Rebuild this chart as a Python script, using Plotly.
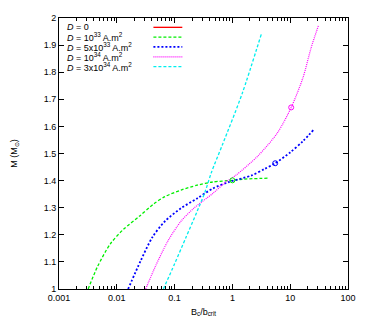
import plotly.graph_objects as go

# Data
green_x = [0.0032, 0.0046, 0.0077, 0.013, 0.0245, 0.043, 0.068, 0.129, 0.245, 0.46, 1.0, 1.47, 4.1]
green_y = [1.0, 1.081, 1.166, 1.22, 1.268, 1.313, 1.341, 1.365, 1.383, 1.395, 1.401, 1.405, 1.409]

blue_x = [0.0157, 0.026, 0.041, 0.068, 0.129, 0.245, 0.46, 0.88, 2.15, 3.6, 5.5, 10, 16.7, 26]
blue_y = [1.0, 1.105, 1.19, 1.25, 1.298, 1.334, 1.371, 1.395, 1.419, 1.443, 1.464, 1.504, 1.546, 1.59]

mag_x = [0.0316, 0.046, 0.077, 0.129, 0.215, 0.46, 0.77, 1.135, 2.79, 6.0, 10.4, 16.7, 23, 30.8]
mag_y = [1.0, 1.081, 1.178, 1.25, 1.298, 1.353, 1.395, 1.419, 1.492, 1.576, 1.67, 1.781, 1.89, 1.972]

cyan_x = [0.064, 0.1, 0.157, 0.245, 0.337, 0.435, 0.68, 1.47, 3.16]
cyan_y = [1.0, 1.093, 1.19, 1.286, 1.359, 1.431, 1.535, 1.72, 1.94]

mark_x = [1.0, 5.5, 10.4]
mark_y = [1.401, 1.464, 1.67]

x_ticks = [0.001, 0.01, 0.1, 1, 10, 100]
x_ticklabels = ["0.001", "0.01", "0.1", "1", "10", "100"]
y_ticks = [1.0, 1.1, 1.2, 1.3, 1.4, 1.5, 1.6, 1.7, 1.8, 1.9, 2.0]
y_ticklabels = ["1", "1.1", "1.2", "1.3", "1.4", "1.5", "1.6", "1.7", "1.8", "1.9", "2"]

D = "<i>D</i>"
labels = [f"{D} = 0", f"{D} = 10<sup>33</sup> A.m<sup>2</sup>", f"{D} = 5x10<sup>33</sup> A.m<sup>2</sup>",
          f"{D} = 10<sup>34</sup> A.m<sup>2</sup>", f"{D} = 3x10<sup>34</sup> A.m<sup>2</sup>"]
colors = ["#ff0000", "#00ee00", "#0000ff", "#ff00ff", "#00eeee"]
dashes = ["solid", "3px,2px", "2px,2px", "1px,1px", "3px,2px"]
widths = [1.3, 1.3, 1.8, 1.2, 1.3]

fig = go.Figure()
series = [(None, None), (green_x, green_y), (blue_x, blue_y), (mag_x, mag_y), (cyan_x, cyan_y)]
for i, (xs, ys) in enumerate(series):
    if xs is None:
        continue
    fig.add_trace(go.Scatter(x=xs, y=ys, mode="lines", line_shape="spline", line_smoothing=0.8,
                             line=dict(color=colors[i], dash=dashes[i], width=widths[i]),
                             showlegend=False, hoverinfo="skip"))
mcols = [colors[1], colors[2], colors[3]]
fig.add_trace(go.Scatter(x=mark_x, y=mark_y, mode="markers",
                         marker=dict(symbol="circle-open", size=5, color=mcols, line=dict(width=1, color=mcols)),
                         showlegend=False))

# manual gnuplot-style key (positions relative to the plot area: 300 x 276 px)
for i, lab in enumerate(labels):
    yy = 9.5 + i * 10
    fig.add_annotation(text=lab, xref="paper", yref="paper",
                       x=6 / 300, y=1 - yy / 276, xanchor="left", yanchor="middle",
                       showarrow=False, font=dict(size=9, color="black"))
    fig.add_shape(type="line", xref="paper", yref="paper",
                  x0=98 / 300, x1=128 / 300,
                  y0=1 - yy / 276, y1=1 - yy / 276,
                  line=dict(color=colors[i], dash=dashes[i], width=widths[i]))

fig.update_layout(
    width=353, height=316,
    margin=dict(l=42, r=11, t=5, b=35),
    paper_bgcolor="white", plot_bgcolor="white",
    font=dict(family="Liberation Sans, Arial, sans-serif", size=9, color="black"),
    xaxis=dict(type="log", range=[-3, 2], tickvals=x_ticks, ticktext=x_ticklabels,
               ticklabeloverflow="allow",
               ticks="inside", ticklen=5, tickcolor="black", mirror="ticks",
               showline=True, linecolor="black", linewidth=1, showgrid=False, zeroline=False,
               minor=dict(ticks="inside", ticklen=3, tickcolor="black", dtick="D1", showgrid=False),
               title=dict(text="B<sub>c</sub>/b<sub>crit</sub>", standoff=6, font=dict(size=9))),
    yaxis=dict(range=[1, 2], tickvals=y_ticks, ticktext=y_ticklabels,
               ticks="inside", ticklen=5, tickcolor="black", mirror="ticks",
               showline=True, linecolor="black", linewidth=1, showgrid=False, zeroline=False,
               title=dict(text="M (M<sub>⊙</sub>)", standoff=24, font=dict(size=9))),
)

fig.write_html("out.html")
